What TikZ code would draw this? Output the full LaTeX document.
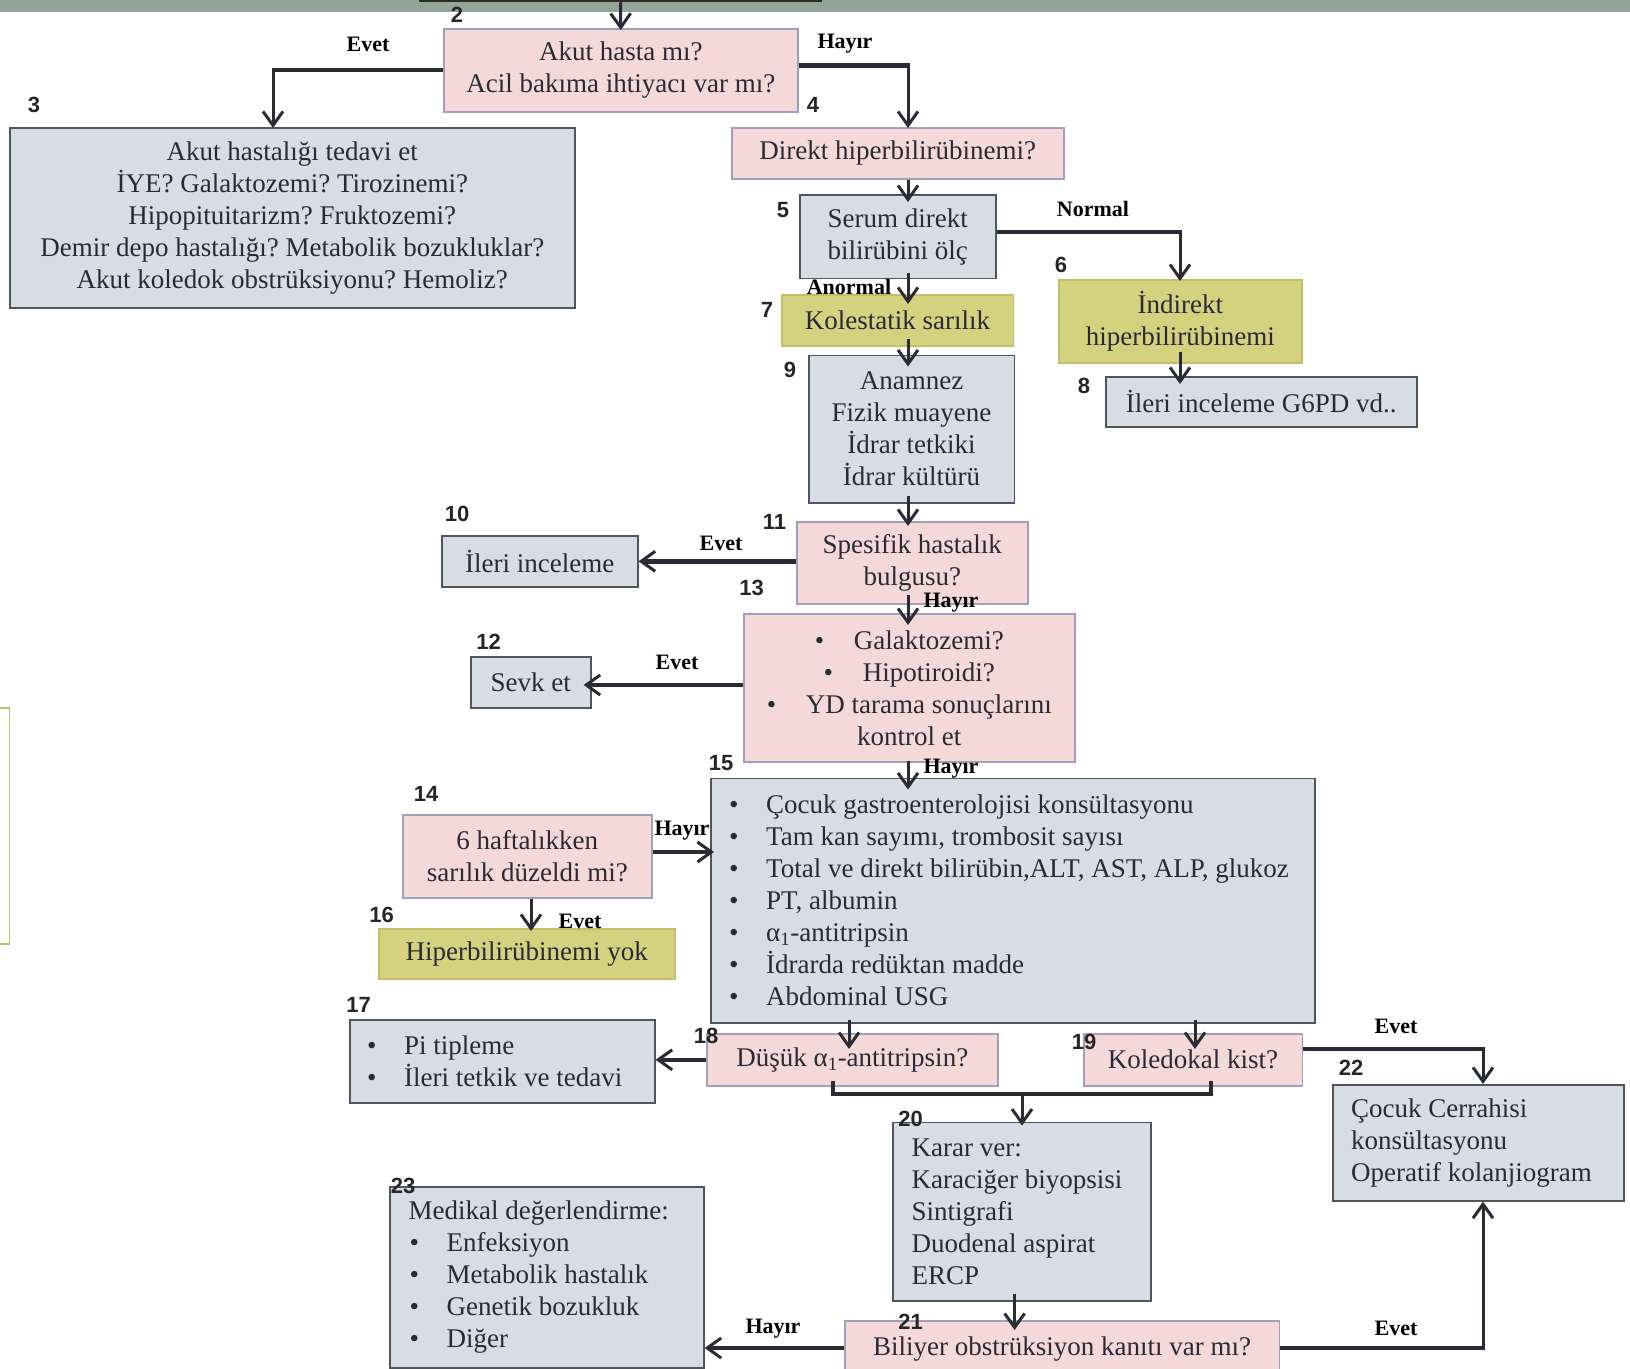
\documentclass[tikz,border=0pt]{standalone}
\usepackage{fontspec}
\setmainfont{Liberation Serif}
\newfontfamily\numfont{Liberation Sans}
\usetikzlibrary{arrows.meta,calc}
\definecolor{pinkfill}{HTML}{F4D9D8}
\definecolor{pinkdraw}{HTML}{A29EBC}
\definecolor{grayfill}{HTML}{D8DCE4}
\definecolor{graydraw}{HTML}{50545E}
\definecolor{olivefill}{HTML}{D5D27F}
\definecolor{olivedraw}{HTML}{C4BF66}
\definecolor{bandc}{HTML}{93A598}
\definecolor{arrc}{HTML}{2B2B35}
\definecolor{txtc}{HTML}{2A2A36}
\definecolor{topbox}{HTML}{2E2C1E}
\newcommand{\mainsz}{\fontsize{27}{32}\selectfont}
\newcommand{\mybul}[1]{\makebox[37pt][l]{\textbullet}#1}
\frenchspacing
\begin{document}
\begin{tikzpicture}[x=1pt,y=-1pt,
 box/.style={rectangle, line width=1.6pt, inner sep=0pt, align=center, anchor=north west, font=\mainsz, text=txtc},
 pinkb/.style={box, fill=pinkfill, draw=pinkdraw},
 grayb/.style={box, fill=grayfill, draw=graydraw},
 oliveb/.style={box, fill=olivefill, draw=olivedraw},
 txt/.style={inner sep=0pt, align=left, anchor=west, font=\mainsz, text=txtc},
 num/.style={inner sep=0pt, font=\numfont\bfseries\fontsize{22}{22}\selectfont, text=black!85},
 yn/.style={inner sep=0pt, font=\bfseries\fontsize{22}{22}\selectfont, text=black},
 arr/.style={draw=arrc, line width=3pt, -{Straight Barb[length=14pt,width=20pt,line width=3pt]}},
 harr/.style={arr, line width=4.5pt},
 hseg/.style={draw=arrc, line width=4.5pt},
 brk/.style={draw=arrc, line width=4pt, line join=miter},
]
\useasboundingbox (0,0) rectangle (1630,1368);
\fill[bandc] (0,0) rectangle (1630,12);
\node[draw=topbox, fill=bandc, line width=2.5pt, minimum width=401pt, minimum height=40pt, inner sep=0pt] (b1) at (620.5,-19) {};

% boxes
\node[box, fill=white, draw=olivedraw, minimum width=40pt, minimum height=236pt] (b0) at (-31.5,707) {};
\node[pinkb, minimum width=354pt, minimum height=83pt] (b2) at (443,28) {Akut hasta mı?\\Acil bakıma ihtiyacı var mı?};
\node[grayb, minimum width=565pt, minimum height=180pt] (b3) at (9,127) {Akut hastalığı tedavi et\\İYE? Galaktozemi? Tirozinemi?\\Hipopituitarizm? Fruktozemi?\\Demir depo hastalığı? Metabolik bozukluklar?\\Akut koledok obstrüksiyonu? Hemoliz?};
\node[pinkb, minimum width=332pt, minimum height=51pt] (b4) at (731,127) {Direkt hiperbilirübinemi?};
\node[grayb, minimum width=196pt, minimum height=83.5pt] (b5) at (799,194) {Serum direkt\\bilirübini ölç};
\node[oliveb, minimum width=243pt, minimum height=83pt] (b6) at (1058,279) {İndirekt\\hiperbilirübinemi};
\node[grayb, minimum width=311pt, minimum height=50pt] (b8) at (1105,376) {İleri inceleme G6PD vd..};
\node[oliveb, minimum width=231.5pt, minimum height=51pt] (b7) at (781,294) {Kolestatik sarılık};
\node[grayb, minimum width=205.5pt, minimum height=147.5pt] (b9) at (808,354.5) {Anamnez\\Fizik muayene\\İdrar tetkiki\\İdrar kültürü};
\node[pinkb, minimum width=231pt, minimum height=82pt] (b11) at (796,521) {Spesifik hastalık\\bulgusu?};
\node[grayb, minimum width=196pt, minimum height=51pt] (b10) at (441,535) {İleri inceleme};
\node[pinkb, minimum width=331pt, minimum height=148pt] (b13) at (743,613) {\textbullet\hspace{1.1em}Galaktozemi?\\\textbullet\hspace{1.1em}Hipotiroidi?\\\textbullet\hspace{1.1em}YD tarama sonuçlarını\\kontrol et};
\node[grayb, minimum width=120pt, minimum height=51pt] (b12) at (470,656) {Sevk et};
\node[grayb, minimum width=604pt, minimum height=244.5pt] (b15) at (710,777.5) {};
\node[txt] (t15) at ($(b15.west)+(19,0)$) {\mybul{Çocuk gastroenterolojisi konsültasyonu}\\\mybul{Tam kan sayımı, trombosit sayısı}\\\mybul{Total ve direkt bilirübin,ALT, AST, ALP, glukoz}\\\mybul{PT, albumin}\\\mybul{α\textsubscript{1}-antitripsin}\\\mybul{İdrarda redüktan madde}\\\mybul{Abdominal USG}};
\node[pinkb, minimum width=249pt, minimum height=83pt] (b14) at (402,814) {6 haftalıkken\\sarılık düzeldi mi?};
\node[oliveb, minimum width=296pt, minimum height=50pt] (b16) at (378,928) {Hiperbilirübinemi yok};
\node[grayb, minimum width=305pt, minimum height=83pt] (b17) at (349,1019) {};
\node[txt] (t17) at ($(b17.west)+(18,0)$) {\mybul{Pi tipleme}\\\mybul{İleri tetkik ve tedavi}};
\node[pinkb, minimum width=291pt, minimum height=52pt] (b18) at (706,1033) {Düşük α\textsubscript{1}-antitripsin?};
\node[pinkb, minimum width=218.5pt, minimum height=52pt] (b19) at (1083,1033) {Koledokal kist?};
\node[grayb, minimum width=291pt, minimum height=116pt] (b22) at (1332,1084) {};
\node[txt] (t22) at ($(b22.west)+(19,0)$) {Çocuk Cerrahisi\\konsültasyonu\\Operatif kolanjiogram};
\node[grayb, minimum width=258pt, minimum height=178.4pt] (b20) at (892,1121.6) {};
\node[txt] (t20) at ($(b20.west)+(19.5,0)$) {Karar ver:\\Karaciğer biyopsisi\\Sintigrafi\\Duodenal aspirat\\ERCP};
\node[pinkb, minimum width=434.6pt, minimum height=56pt] (b21) at (844,1320) {Biliyer obstrüksiyon kanıtı var mı?};
\node[grayb, minimum width=314pt, minimum height=181pt] (b23) at (389,1186) {};
\node[txt] (t23) at ($(b23.west)+(19.5,0)$) {Medikal değerlendirme:\\\hspace*{1pt}\mybul{Enfeksiyon}\\\hspace*{1pt}\mybul{Metabolik hastalık}\\\hspace*{1pt}\mybul{Genetik bozukluk}\\\hspace*{1pt}\mybul{Diğer}};

% connectors
\draw[arr] (b1.south) -- ($(b2.north)+(0,2)$);
\coordinate (c2l) at (273,70);
\draw[arr] (b2.west |- c2l) -| ($(b3.north -| c2l)+(0,1)$);
\draw[hseg] (b2.west |- c2l) -- ($(c2l)+(-1.5,0)$);
\coordinate (c2r) at (908,65.5);
\draw[arr] (b2.east |- c2r) -| ($(b4.north -| c2r)+(0,1)$);
\draw[hseg] (b2.east |- c2r) -- ($(c2r)+(1.5,0)$);

\coordinate (cx) at (908,0);
\draw[arr] (b4.south -| cx) -- ($(b5.north -| cx)+(0,8)$);
\draw[arr] ($(b5.south -| cx)+(0,-6)$) -- ($(b7.north -| cx)+(0,10)$);
\draw[arr] ($(b7.south -| cx)+(0,-8)$) -- ($(b9.north -| cx)+(0,12)$);
\draw[arr] ($(b9.south -| cx)+(0,-8)$) -- ($(b11.north -| cx)+(0,5)$);
\draw[arr] ($(b11.south -| cx)+(0,-10)$) -- ($(b13.north -| cx)+(0,12)$);
\draw[arr] ($(b13.south -| cx)+(0,-2)$) -- ($(b15.north -| cx)+(0,12)$);

\coordinate (c5) at (1180,232);
\draw[arr] (b5.east |- c5) -| ($(b6.north -| c5)+(0,2)$);
\draw[hseg] (b5.east |- c5) -- ($(c5)+(1.5,0)$);
\draw[arr] ($(b6.south -| c5)+(0,-12)$) -- ($(b8.north -| c5)+(0,8)$);

\draw[harr] (b11.west |- b10.east) -- (b10.east);
\coordinate (c13) at (0,685);
\draw[harr] (b13.west |- c13) -- ($(b12.east |- c13)+(-8,0)$);

\coordinate (c14) at (531,852);
\draw[harr] (b14.east |- c14) -- ($(b15.west |- c14)+(4,0)$);
\draw[arr] (b14.south -| c14) -- ($(b16.north -| c14)+(0,3)$);

\coordinate (c18) at (849,0);
\coordinate (c19) at (1195,0);
\draw[arr] ($(b15.south -| c18)+(0,-4)$) -- ($(b18.north -| c18)+(0,16)$);
\draw[arr] ($(b15.south -| c19)+(0,-4)$) -- ($(b19.north -| c19)+(0,16)$);
\draw[harr] (b18.west) -- (b17.east |- b18.west);

\coordinate (c22) at (1483,1049);
\draw[arr] (b19.east |- c22) -| (b22.north -| c22);
\draw[hseg] (b19.east |- c22) -- ($(c22)+(1.5,0)$);

\coordinate (k1) at (833,1093.5);
\coordinate (k2) at (1211,1093.5);
\coordinate (k3) at (1022,1093.5);
\draw[brk] ($(b18.south -| k1)+(0,-6)$) -- (k1) -- (k2) -- ($(b19.south -| k2)+(0,-6)$);
\draw[arr] (k3) -- ($(b20.north -| k3)+(0,4)$);

\coordinate (c20) at (1014.6,0);
\draw[arr] ($(b20.south -| c20)+(0,-8)$) -- ($(b21.north -| c20)+(0,10)$);

\coordinate (c21) at (0,1348);
\draw[harr] (b21.west |- c21) -- (b23.east |- c21);
\coordinate (c21r) at (1483,1348);
\draw[arr] (b21.east |- c21r) -| (b22.south -| c21r);
\draw[hseg] (b21.east |- c21r) -- ($(c21r)+(1.5,0)$);

% branch labels
\node[yn] (y1) at (368,44) {Evet};
\node[yn] (y2) at (845,44) {Hayır};
\node[yn] (y3) at (1093,209) {Normal};
\node[yn] (y4) at (849,287) {Anormal};
\node[yn] (y5) at (721,543) {Evet};
\node[yn] (y6) at (951,603) {Hayır};
\node[yn] (y7) at (677,662) {Evet};
\node[yn] (y8) at (951,769) {Hayır};
\node[yn] (y9) at (682,831) {Hayır};
\node[yn] (y10) at (580,921) {Evet};
\node[yn] (y11) at (1396,1026) {Evet};
\node[yn] (y12) at (773,1328.5) {Hayır};
\node[yn] (y13) at (1396,1328.5) {Evet};

% step numbers
\node[num] (n2) at (457,14.5) {2};
\node[num] (n3) at (34,105) {3};
\node[num] (n4) at (813,105) {4};
\node[num] (n5) at (783,210) {5};
\node[num] (n6) at (1061,265) {6};
\node[num] (n7) at (767,310) {7};
\node[num] (n8) at (1084,386) {8};
\node[num] (n9) at (790,370) {9};
\node[num] (n10) at (457,513.5) {10};
\node[num] (n11) at (774.5,522) {11};
\node[num] (n12) at (488.5,642) {12};
\node[num] (n13) at (751.5,588) {13};
\node[num] (n14) at (426,794) {14};
\node[num] (n15) at (721,763) {15};
\node[num] (n16) at (381.5,915) {16};
\node[num] (n17) at (358.6,1005) {17};
\node[num] (n18) at (706,1036) {18};
\node[num] (n19) at (1084,1041.6) {19};
\node[num] (n20) at (910.6,1118.5) {20};
\node[num] (n21) at (910.6,1322) {21};
\node[num] (n22) at (1351,1067.5) {22};
\node[num] (n23) at (403,1186) {23};
\end{tikzpicture}
\end{document}
